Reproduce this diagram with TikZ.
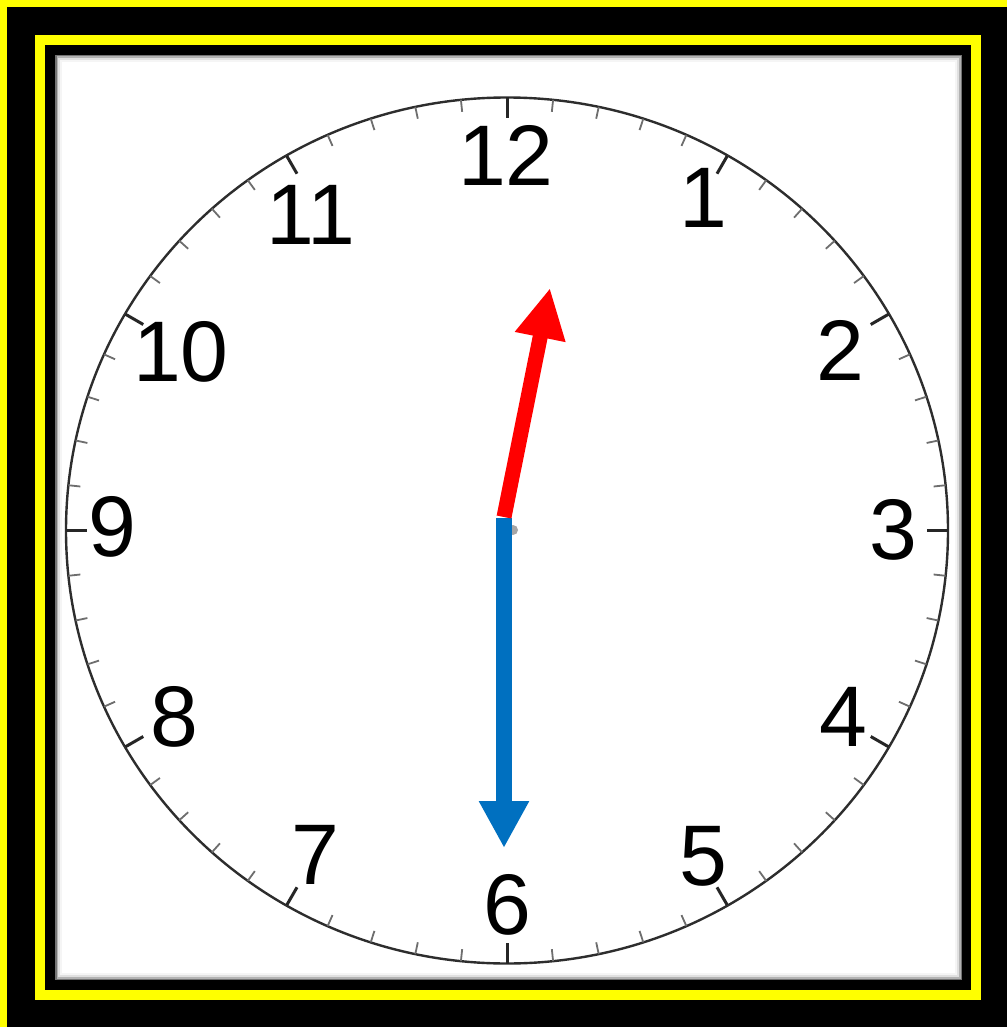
\documentclass[tikz,border=0pt]{standalone}
\usepackage{fontspec}
\setmainfont{Liberation Sans}
\usetikzlibrary{arrows.meta}
\definecolor{frameyellow}{RGB}{255,255,0}
\definecolor{handblue}{RGB}{0,112,192}
\definecolor{handred}{RGB}{255,0,0}
\definecolor{rimgray}{RGB}{45,45,45}
\definecolor{tickgray}{RGB}{110,110,110}
\tikzset{
  numeral/.style={inner sep=0pt, font=\fontsize{86}{86}\selectfont, text=black},
  minutetick/.style={draw=tickgray, line width=1.8pt},
  hourtick/.style={draw=black!85, line width=3pt},
  rim/.style={draw=rimgray, line width=2.4pt},
  hand/.style={line width=16pt},
}
\begin{document}
\begin{tikzpicture}[x=1pt,y=-1pt]
\useasboundingbox (0,0) rectangle (1007,1027);
% frame
\fill[black] (0,0) rectangle (1007,1027);
\fill[frameyellow] (0,0) rectangle (1007,7);
\fill[frameyellow] (0,0) rectangle (7,1027);
\draw[frameyellow, line width=10pt] (40,40) rectangle (976,995);
% face with soft shadow edge
\fill[black!55] (55,55) rectangle (962,980);
\fill[black!30] (56.5,56.5) rectangle (960.5,978.5);
\fill[black!12] (58,58) rectangle (959,977);
\fill[black!4] (60,60) rectangle (957,975);
\fill[white] (62,62) rectangle (955,973);
% dial
\draw[rim] (507,530.5) ellipse [x radius=441, y radius=433];
\foreach \i in {0,...,59}
  \draw[minutetick] ({507+441*cos(6*\i)},{530.5+433*sin(6*\i)}) -- ({507+429*cos(6*\i)},{530.5+421*sin(6*\i)});
\foreach \i in {0,...,11}
  \draw[hourtick] ({507+441*cos(30*\i)},{530.5+433*sin(30*\i)}) -- ({507+420*cos(30*\i)},{530.5+412*sin(30*\i)});
% numerals
\node[numeral] (n12) at (506,155) {12};
\node[numeral] (n1)  at (703,198) {1};
\node[numeral] (n2)  at (840,350) {2};
\node[numeral] (n3)  at (893,530) {3};
\node[numeral] (n4)  at (843,717) {4};
\node[numeral] (n5)  at (703,856) {5};
\node[numeral] (n6)  at (507,905) {6};
\node[numeral] (n7)  at (315,855) {7};
\node[numeral] (n8)  at (174,717) {8};
\node[numeral] (n9)  at (112,527) {9};
\node[numeral] (n10) at (181,352) {10};
\node[numeral] (n11) at (311,215) {11};
% centre pin shadow
\fill[black!35] (513,530) circle (5);
% hands
\coordinate (hub) at (504,517.5);
\coordinate (hubred) at (504,517);
\coordinate (bluetip) at (504,848);
\coordinate (redtip) at (550,288);
\draw[hand, handblue, -{Triangle[length=47pt,width=47pt]}] (hub) -- (bluetip);
\draw[hand, handred, line width=15pt, -{Triangle[length=50pt,width=48pt]}] (hubred) -- (redtip);
\end{tikzpicture}
\end{document}
